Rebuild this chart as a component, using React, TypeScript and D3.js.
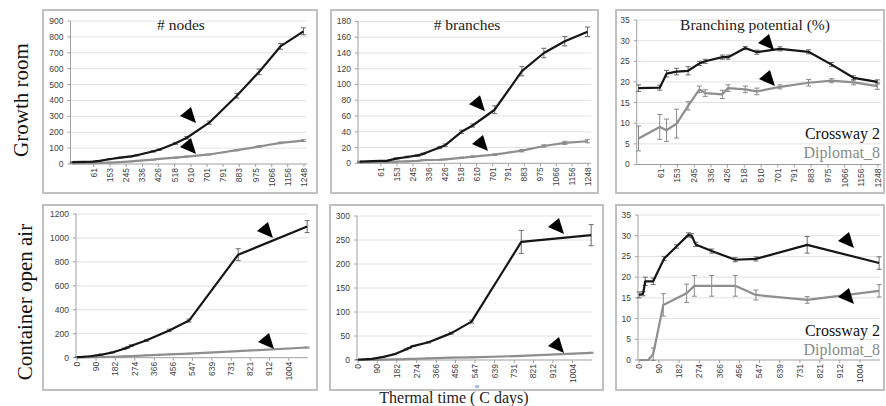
import React from 'react';
import * as d3 from 'd3';

// ---------- x (thermal time, degree-days) ----------
const TOP_DAYS = [-60, 56, 93, 148, 211, 273, 304, 398, 430, 523, 587, 713, 869, 995, 1115, 1245];
const TOP_TICKS = [61, 153, 245, 336, 426, 518, 610, 701, 791, 883, 975, 1066, 1156, 1248];
const BOTTOM_DAYS = [0, 18, 28, 64, 114, 170, 224, 239, 257, 330, 437, 531, 764, 1091];
const BOTTOM_GRAY_BP_DAYS = [0, 41, 64, 110, 216, 251, 330, 437, 531, 764, 1091];
const BOTTOM_TICKS = [0, 90, 182, 274, 366, 456, 547, 639, 731, 821, 912, 1004];

// ---------- Growth room ----------
const GR_NODES_CROSSWAY = [12, 15, 20, 30, 40, 48, 55, 80, 90, 130, 165, 260, 430, 580, 740, 835];
const GR_NODES_CROSSWAY_ERR = [2, 2, 2, 3, 3, 3, 4, 5, 5, 6, 8, 10, 15, 18, 18, 22];
const GR_NODES_DIPLOMAT = [4, 6, 7, 9, 12, 16, 20, 28, 32, 40, 47, 60, 87, 110, 133, 147];
const GR_NODES_DIPLOMAT_ERR = [1, 1, 1, 1, 1, 2, 2, 2, 2, 3, 3, 3, 4, 5, 5, 6];

const GR_BRANCH_CROSSWAY = [2, 3, 3, 6, 8, 10, 12, 20, 23, 40, 48, 68, 117, 140, 155, 167];
const GR_BRANCH_CROSSWAY_ERR = [0.5, 0.5, 0.5, 0.8, 1, 1, 1, 1.5, 1.5, 2, 2, 5, 6, 6, 6, 6];
const GR_BRANCH_DIPLOMAT = [1, 1.5, 1.5, 2, 2.5, 3, 4, 4.5, 5, 7, 8.5, 11, 16, 22, 26, 28];
const GR_BRANCH_DIPLOMAT_ERR = [0.3, 0.3, 0.3, 0.3, 0.4, 0.4, 0.5, 0.5, 0.5, 0.8, 0.8, 1, 1.5, 1.5, 2, 2];

const GR_BP_CROSSWAY = [18.5, 18.6, 22, 22.5, 22.7, 24.5, 25, 26, 26, 28.2, 27.2, 28, 27.3, 24.2, 21, 20];
const GR_BP_CROSSWAY_ERR = [0.8, 0.6, 0.8, 0.8, 1, 0.5, 0.5, 0.5, 0.5, 0.4, 0.5, 0.5, 0.5, 0.5, 0.5, 0.5];
const GR_BP_DIPLOMAT = [6.3, 9.1, 8.3, 9.9, 14.2, 18.2, 17.3, 17, 18.5, 18.2, 17.7, 18.8, 19.8, 20.3, 19.9, 19];
const GR_BP_DIPLOMAT_ERR = [3, 3, 2.7, 3.5, 1, 0.8, 0.8, 1, 0.8, 0.8, 0.8, 0.5, 0.8, 0.5, 0.6, 0.8];

// ---------- Container open air ----------
const CO_NODES_CROSSWAY = [5, 6, 8, 12, 25, 45, 75, 85, 100, 145, 228, 310, 860, 1095];
const CO_NODES_CROSSWAY_ERR = [2, 2, 2, 3, 4, 5, 6, 6, 7, 8, 10, 12, 50, 50];
const CO_NODES_DIPLOMAT = [2, 2, 3, 4, 6, 8, 11, 12, 13, 20, 28, 34, 55, 85];
const CO_NODES_DIPLOMAT_ERR = [0.5, 0.5, 0.5, 0.5, 1, 1, 1, 1, 1, 1, 2, 2, 3, 4];

const CO_BRANCH_CROSSWAY = [0.8, 1, 1.5, 2.3, 6, 12, 22, 25, 29, 37, 56, 80, 246, 260];
const CO_BRANCH_CROSSWAY_ERR = [0.2, 0.2, 0.3, 0.3, 0.5, 1, 1, 1, 1, 1.5, 2, 3, 24, 22];
const CO_BRANCH_DIPLOMAT = [0, 0, 0, 0.1, 0.8, 1.3, 2, 2.2, 2.3, 3.5, 5, 5.5, 8.5, 15];
const CO_BRANCH_DIPLOMAT_ERR = [0, 0, 0, 0, 0.1, 0.1, 0.2, 0.2, 0.2, 0.3, 0.4, 0.5, 0.8, 1];

const CO_BP_CROSSWAY = [15.7, 16, 19, 19, 24.5, 27.4, 30.2, 30, 27.9, 26.3, 24.2, 24.4, 27.8, 23.4];
const CO_BP_CROSSWAY_ERR = [0.7, 0.5, 1, 0.8, 0.5, 0.4, 0.5, 0.5, 0.5, 0.5, 0.5, 0.5, 2, 1.5];
const CO_BP_DIPLOMAT = [0, 0, 1.4, 13.3, 16.1, 17.9, 17.9, 17.9, 15.7, 14.5, 16.7];
const CO_BP_DIPLOMAT_ERR = [0, 0, 1.5, 2.7, 2.2, 2.5, 2.5, 2.5, 1.2, 0.8, 1.5];

// ---------- y ticks ----------
const Y_NODES_GR = [0, 100, 200, 300, 400, 500, 600, 700, 800, 900];
const Y_BRANCH_GR = [0, 20, 40, 60, 80, 100, 120, 140, 160, 180];
const Y_BP = [0, 5, 10, 15, 20, 25, 30, 35];
const Y_NODES_CO = [0, 200, 400, 600, 800, 1000, 1200];
const Y_BRANCH_CO = [0, 50, 100, 150, 200, 250, 300];

// ---------- arrow annotations (tip in data units) ----------
const ARROWS_GR_NODES = [[548, 302], [548, 107]];
const ARROWS_GR_BRANCH = [[566, 75], [583, 24.5]];
const ARROWS_GR_BP = [[593, 29.4], [598, 20.7]];
const ARROWS_CO_NODES = [[853, 1058], [858, 131]];
const ARROWS_CO_BRANCH = [[889, 277], [889, 29]];
const ARROWS_CO_BP = [[904, 28.7], [904, 15.2]];

const TITLES = ['# nodes', '# branches', 'Branching potential (%)'];
const ROW_LABELS = ['Growth room', 'Container open air'];
const LEGEND = ['Crossway 2', 'Diplomat_8'];
const X_TITLE = 'Thermal time ( C days)';

const BLACK = '#161616';
const GRAY = '#8e8e8e';
const SERIF = '"Liberation Serif", "Times New Roman", serif';
const SANS = '"Liberation Sans", Arial, sans-serif';

type Series = { x: number[]; y: number[]; err: number[]; color: string };
type PanelCfg = {
  frame: [number, number, number, number];
  plot: [number, number, number, number];
  xDomain: [number, number];
  xTicks: number[];
  yTicks: number[];
  series: Series[];
  arrows: number[][];
  title?: string;
  titleX?: number;
  legend?: boolean;
};

const TOP_DOMAIN: [number, number] = [-70, 1265];
const BOTTOM_DOMAIN: [number, number] = [-5, 1095];

const PANELS: PanelCfg[] = [
  {
    frame: [43, 10, 317, 193], plot: [70.5, 21, 307, 164], xDomain: TOP_DOMAIN, xTicks: TOP_TICKS, yTicks: Y_NODES_GR,
    series: [
      { x: TOP_DAYS, y: GR_NODES_DIPLOMAT, err: GR_NODES_DIPLOMAT_ERR, color: GRAY },
      { x: TOP_DAYS, y: GR_NODES_CROSSWAY, err: GR_NODES_CROSSWAY_ERR, color: BLACK },
    ],
    arrows: ARROWS_GR_NODES, title: TITLES[0], titleX: 181,
  },
  {
    frame: [331, 10, 598, 193], plot: [358, 21.5, 591, 163.3], xDomain: TOP_DOMAIN, xTicks: TOP_TICKS, yTicks: Y_BRANCH_GR,
    series: [
      { x: TOP_DAYS, y: GR_BRANCH_DIPLOMAT, err: GR_BRANCH_DIPLOMAT_ERR, color: GRAY },
      { x: TOP_DAYS, y: GR_BRANCH_CROSSWAY, err: GR_BRANCH_CROSSWAY_ERR, color: BLACK },
    ],
    arrows: ARROWS_GR_BRANCH, title: TITLES[1], titleX: 467,
  },
  {
    frame: [616, 10, 884, 193], plot: [636.7, 20, 881, 164.5], xDomain: TOP_DOMAIN, xTicks: TOP_TICKS, yTicks: Y_BP,
    series: [
      { x: TOP_DAYS, y: GR_BP_DIPLOMAT, err: GR_BP_DIPLOMAT_ERR, color: GRAY },
      { x: TOP_DAYS, y: GR_BP_CROSSWAY, err: GR_BP_CROSSWAY_ERR, color: BLACK },
    ],
    arrows: ARROWS_GR_BP, title: TITLES[2], titleX: 755, legend: true,
  },
  {
    frame: [43, 205, 317, 390], plot: [76, 214, 308, 357.7], xDomain: BOTTOM_DOMAIN, xTicks: BOTTOM_TICKS, yTicks: Y_NODES_CO,
    series: [
      { x: BOTTOM_DAYS, y: CO_NODES_DIPLOMAT, err: CO_NODES_DIPLOMAT_ERR, color: GRAY },
      { x: BOTTOM_DAYS, y: CO_NODES_CROSSWAY, err: CO_NODES_CROSSWAY_ERR, color: BLACK },
    ],
    arrows: ARROWS_CO_NODES,
  },
  {
    frame: [330, 205, 603, 390], plot: [357, 216, 592, 360], xDomain: BOTTOM_DOMAIN, xTicks: BOTTOM_TICKS, yTicks: Y_BRANCH_CO,
    series: [
      { x: BOTTOM_DAYS, y: CO_BRANCH_DIPLOMAT, err: CO_BRANCH_DIPLOMAT_ERR, color: GRAY },
      { x: BOTTOM_DAYS, y: CO_BRANCH_CROSSWAY, err: CO_BRANCH_CROSSWAY_ERR, color: BLACK },
    ],
    arrows: ARROWS_CO_BRANCH,
  },
  {
    frame: [616, 205, 884, 390], plot: [638, 215, 880, 360], xDomain: BOTTOM_DOMAIN, xTicks: BOTTOM_TICKS, yTicks: Y_BP,
    series: [
      { x: BOTTOM_GRAY_BP_DAYS, y: CO_BP_DIPLOMAT, err: CO_BP_DIPLOMAT_ERR, color: GRAY },
      { x: BOTTOM_DAYS, y: CO_BP_CROSSWAY, err: CO_BP_CROSSWAY_ERR, color: BLACK },
    ],
    arrows: ARROWS_CO_BP, legend: true,
  },
];

function Panel({ cfg }: { cfg: PanelCfg }) {
  const [fx0, fy0, fx1, fy1] = cfg.frame;
  const [px0, py0, px1, py1] = cfg.plot;
  const x = d3.scaleLinear().domain(cfg.xDomain).range([px0, px1]);
  const yMax = cfg.yTicks[cfg.yTicks.length - 1];
  const y = d3.scaleLinear().domain([0, yMax]).range([py1, py0]);
  const line = d3.line<[number, number]>().x((d) => x(d[0])).y((d) => y(d[1]));

  return (
    <g>
      <rect x={fx0} y={fy0} width={fx1 - fx0} height={fy1 - fy0} fill="#fff" stroke="#c0c0c0" strokeWidth={2} />
      {cfg.yTicks.map((t) => (
        <g key={'y' + t}>
          {t > 0 && <line x1={px0} x2={px1} y1={y(t)} y2={y(t)} stroke="#e2e2e2" strokeWidth={1} />}
          <line x1={px0 - 3} x2={px0} y1={y(t)} y2={y(t)} stroke="#a0a0a0" strokeWidth={1} />
          <text x={px0 - 7} y={y(t)} dy="0.35em" textAnchor="end" fontSize={8.5} fill="#404040" fontFamily={SANS}>
            {t}
          </text>
        </g>
      ))}
      <line x1={px0} x2={px0} y1={py0} y2={py1} stroke="#a0a0a0" strokeWidth={1} />
      <line x1={px0} x2={px1} y1={py1} y2={py1} stroke="#a0a0a0" strokeWidth={1} />
      {cfg.xTicks.map((t) => (
        <g key={'x' + t}>
          <line x1={x(t)} x2={x(t)} y1={py1} y2={py1 + 3} stroke="#a0a0a0" strokeWidth={1} />
          <text
            transform={`translate(${x(t)},${py1 + 4}) rotate(-90)`}
            dy="0.35em"
            textAnchor="end"
            fontSize={8.5}
            fill="#404040"
            fontFamily={SANS}
          >
            {t}
          </text>
        </g>
      ))}
      {cfg.series.map((s, i) => {
        const pts = s.x.map((d, j) => [d, s.y[j]] as [number, number]);
        return (
          <g key={'s' + i}>
            {pts.map((p, j) =>
              s.err[j] > 0 ? (
                <g key={'e' + j} stroke={s.color === BLACK ? '#6a6a6a' : '#8a8a8a'} strokeWidth={1}>
                  <line x1={x(p[0])} x2={x(p[0])} y1={y(p[1] - s.err[j])} y2={y(p[1] + s.err[j])} />
                  <line x1={x(p[0]) - 2.5} x2={x(p[0]) + 2.5} y1={y(p[1] - s.err[j])} y2={y(p[1] - s.err[j])} />
                  <line x1={x(p[0]) - 2.5} x2={x(p[0]) + 2.5} y1={y(p[1] + s.err[j])} y2={y(p[1] + s.err[j])} />
                </g>
              ) : null
            )}
            <path d={line(pts) || ''} fill="none" stroke={s.color} strokeWidth={2.2} strokeLinejoin="round" />
          </g>
        );
      })}
      {cfg.arrows.map((a, i) => {
        const tx = x(a[0]);
        const ty = y(a[1]);
        return <path key={'a' + i} d={`M${tx},${ty} L${tx + 11},${ty - 9} L${tx + 16},${ty + 7} Z`} fill="#000" />;
      })}
      {cfg.title && (
        <text x={cfg.titleX} y={fy0 + 20} textAnchor="middle" fontSize={15.5} fill="#1a1a1a" fontFamily={SERIF}>
          {cfg.title}
        </text>
      )}
      {cfg.legend && (
        <g fontFamily={SERIF} fontSize={16} textAnchor="end">
          <text x={fx1 - 4} y={fy1 - 54} fill="#111">{LEGEND[0]}</text>
          <text x={fx1 - 4} y={fy1 - 35} fill="#8a8a8a">{LEGEND[1]}</text>
        </g>
      )}
    </g>
  );
}

export default function App() {
  return (
    <svg width={886} height={406} style={{ position: 'absolute', left: 0, top: 0, background: '#fff' }}>
      <rect x={0} y={0} width={886} height={406} fill="#fff" />
      {PANELS.map((p, i) => (
        <Panel key={i} cfg={p} />
      ))}
      <text transform="translate(28,100) rotate(-90)" textAnchor="middle" fontSize={21} fontFamily={SERIF} fill="#111">
        {ROW_LABELS[0]}
      </text>
      <text transform="translate(32,302) rotate(-90)" textAnchor="middle" fontSize={21} fontFamily={SERIF} fill="#111">
        {ROW_LABELS[1]}
      </text>
      <text x={454} y={403} textAnchor="middle" fontSize={16} fontFamily={SERIF} fill="#222">
        {X_TITLE}
      </text>
      <text x={477} y={388} textAnchor="middle" fontSize={7} fontFamily={SERIF} fill="#222">
        o
      </text>
    </svg>
  );
}
